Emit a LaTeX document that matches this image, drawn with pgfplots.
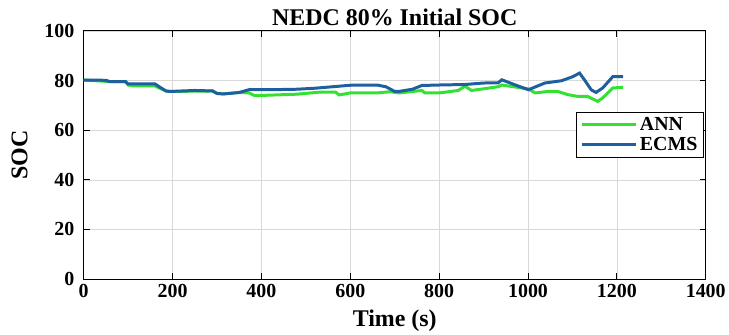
\documentclass[border=0pt]{standalone}
\usepackage{pgfplots}
\pgfplotsset{compat=1.18}
\usepackage{fontspec}
\setmainfont{Liberation Serif}
\definecolor{anncol}{RGB}{50,225,50}
\definecolor{ecmscol}{RGB}{30,95,160}
\begin{document}
\begin{tikzpicture}
\begin{axis}[
  scale only axis,
  width=624pt, height=249pt,
  xmin=0, xmax=1400, ymin=0, ymax=100,
  xtick={0,200,...,1400}, ytick={0,20,...,100},
  grid=major,
  major grid style={gray!30, line width=0.6pt},
  axis line style={black, line width=0.8pt},
  tick style={black, line width=0.8pt},
  major tick length=6pt,
  tick pos=both,
  tick align=inside,
  /pgf/number format/assume math mode=true,
  /pgf/number format/1000 sep={},
  tick label style={font=\fontsize{20}{20}\selectfont\bfseries},
  xticklabel style={yshift=-2pt},
  yticklabel style={xshift=-6pt},
  title={\fontsize{24}{24}\selectfont\bfseries NEDC 80\% Initial SOC},
  title style={yshift=-4pt},
  xlabel={\fontsize{24}{24}\selectfont\bfseries Time (s)},
  ylabel={\fontsize{24}{24}\selectfont\bfseries SOC},
  xlabel style={yshift=-5pt},
  ylabel style={yshift=10pt},
  legend cell align=left,
  legend style={at={(rel axis cs:0.997,0.675)}, anchor=north east, draw=black, line width=0.8pt,
    font=\fontsize{20}{20}\selectfont\bfseries, inner xsep=4pt, inner ysep=3pt, row sep=2pt},
  legend image code/.code={\draw[#1, line width=3pt] (0pt,0pt) -- (55pt,0pt);},
]
\addplot[anncol, line width=3pt] coordinates {
(0,80.2) (58,79.6) (94,79.6) (100,78.2) (112,77.8) (160,77.8) (170,77.0) (185,75.8) (195,75.6)
(290,75.8) (300,74.8) (314,74.6) (350,75.2) (372,75.0) (385,73.9) (480,74.5) (530,75.3) (567,75.3)
(575,74.2) (600,75.0) (660,75.0) (690,75.5) (709,75.0) (761,76.0) (768,75.0) (800,75.0) (843,76.0)
(858,77.7) (873,76.0) (933,77.5) (941,78.2) (1001,76.6) (1016,75.0) (1045,75.6) (1067,75.6)
(1090,74.3) (1112,73.6) (1134,73.6) (1157,71.6) (1168,73.0) (1191,77.0) (1214,77.3)
};
\addlegendentry{ANN}
\addplot[ecmscol, line width=3pt] coordinates {
(0,80.2) (50,80.1) (58,79.6) (94,79.6) (100,78.6) (112,78.7) (160,78.7) (170,77.5) (185,75.8)
(195,75.6) (250,76.0) (290,75.8) (300,74.8) (314,74.6) (340,75.0) (350,75.2) (372,76.3) (420,76.3)
(480,76.5) (520,76.9) (567,77.6) (600,78.1) (660,78.2) (680,77.5) (700,75.6) (709,75.6) (740,76.5)
(761,78.0) (800,78.2) (858,78.4) (900,79.0) (933,79.1) (941,80.3) (970,78.3) (1001,76.3) (1038,79.0)
(1075,79.9) (1100,81.5) (1116,83.0) (1127,80.3) (1142,76.3) (1153,75.2) (1168,77.0) (1191,81.6) (1214,81.6)
};
\addlegendentry{ECMS}
\end{axis}
\useasboundingbox (current axis.south west) ++(-84pt,-56pt) rectangle ([xshift=21pt,yshift=31pt]current axis.north east);
\end{tikzpicture}
\end{document}
